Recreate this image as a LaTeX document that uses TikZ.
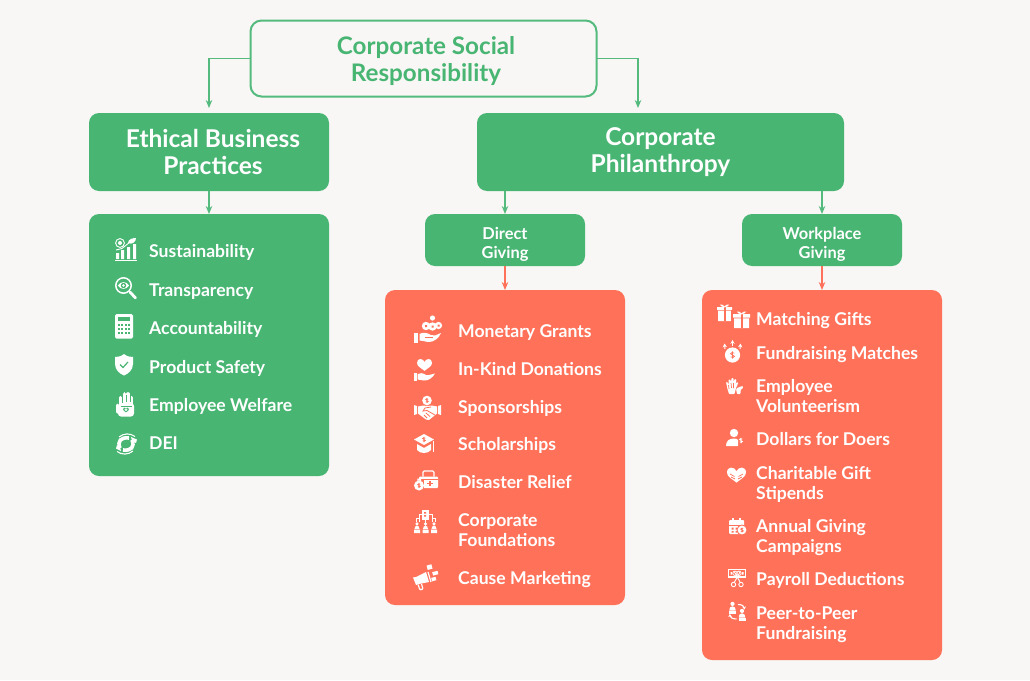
\documentclass[tikz,border=0pt]{standalone}
\usepackage{fontspec}
\setmainfont{Lato}
\usetikzlibrary{arrows.meta}
\definecolor{bgc}{HTML}{F8F7F5}
\definecolor{grn}{HTML}{48B573}
\definecolor{grl}{HTML}{55BA7D}
\definecolor{cor}{HTML}{FF7159}
\colorlet{cutc}{grn}
\tikzset{
  x=1pt,y=-1pt,
  block/.style={rectangle,rounded corners=10pt,inner sep=0pt,outer sep=0pt,fill=#1,text=white,align=center},
  listbox/.style={rectangle,rounded corners=10pt,inner sep=0pt,outer sep=0pt,fill=#1},
  headtxt/.style={font=\fontsize{24.5}{27}\selectfont\bfseries,text=white,align=center,inner sep=0pt,yshift=-4pt},
  subtxt/.style={font=\fontsize{16.4}{19}\selectfont\bfseries,text=white,align=center,inner sep=0pt,yshift=-3pt},
  item/.style={anchor=west,inner sep=0pt,text=white,align=left,yshift=-3.5pt,font=\fontsize{17.6}{19.7}\selectfont\bfseries},
  conn/.style={draw=#1,line width=1.3pt,-{Stealth[length=8pt,width=6.5pt]}},
  wf/.style={fill=white,draw=none},
  ws/.style={draw=white,line width=1.1pt,fill=none},
  cf/.style={fill=cutc,draw=none},
  cs/.style={draw=cutc,line width=.8pt,fill=none},
}
\newcommand\hrt[4]{\fill[#4,shift={(#1,#2)},scale=#3] (0,-.35) .. controls (-.2,-.85) and (-1,-.9) .. (-1,-.2) .. controls (-1,.25) and (-.4,.5) .. (0,.85) .. controls (.4,.5) and (1,.25) .. (1,-.2) .. controls (1,-.9) and (.2,-.85) .. (0,-.35) -- cycle;}
\newcommand\dol[4]{\draw[draw=#4,line width=.7pt,shift={(#1,#2)},scale=#3] (.55,-.55) .. controls (.2,-.85) and (-.6,-.85) .. (-.6,-.4) .. controls (-.6,.05) and (.6,-.05) .. (.6,.4) .. controls (.6,.85) and (-.2,.85) .. (-.55,.55) (0,-1.1) -- (0,1.1);}
\newcommand\prs[4]{\fill[#4,shift={(#1,#2)},scale=#3] (0,-1) circle [radius=1] (-1.5,2.2) .. controls (-1.5,.6) and (-.8,.2) .. (0,.2) .. controls (.8,.2) and (1.5,.6) .. (1.5,2.2) -- cycle;}
\newcommand\twol[2]{\strut #1\\\strut #2}
\tikzset{
  pics/isust/.style={code={
    \draw[ws,line width=1pt] (0,22) -- (22,22);
    \fill[wf] (1,15) rectangle +(3,6) (6,12) rectangle +(3,9) (12,9) rectangle +(3,12) (18,6) rectangle +(3,15);
    \draw[ws,line width=.9pt] (5,5) circle [radius=4.4];
    \fill[wf] (5,5) circle [radius=2];
    \draw[ws,line width=.9pt] (1,12) -- (7,10.5) -- (15,4);
    \fill[wf] (13,5) .. controls (13,1) and (18,0) .. (21,0) .. controls (21,4) and (17,7) .. (13,5) -- cycle;
  }},
  pics/itrans/.style={code={
    \draw[ws,line width=1.5pt] (8.5,8.5) circle [radius=7.7];
    \draw[white,line width=2.8pt,line cap=round] (15,15) -- (20.5,21);
    \fill[wf] (3,8.5) .. controls (5.5,4) and (11.5,4) .. (14,8.5) .. controls (11.5,13) and (5.5,13) .. (3,8.5) -- cycle;
    \fill[cf] (8.5,8.5) circle [radius=2.7];
    \fill[wf] (8.5,8.5) circle [radius=1.3];
  }},
  pics/icalc/.style={code={
    \fill[wf,rounded corners=1.5pt] (0,0) rectangle (18,24.5);
    \fill[cf] (3,3) rectangle (15,6.5);
    \foreach \i in {0,1,2,3} \foreach \j in {0,1,2}
      \fill[cf] ({3+3.3*\i},{9.5+4*\j}) rectangle +(2,2.2);
  }},
  pics/ishield/.style={code={
    \fill[wf] (9,0) .. controls (12,2.5) and (15,3) .. (18,3) -- (18,10) .. controls (18,16) and (13,20) .. (9,21.5) .. controls (5,20) and (0,16) .. (0,10) -- (0,3) .. controls (3,3) and (6,2.5) .. (9,0) -- cycle;
    \draw[cutc,line width=1.2pt] (5,10.5) -- (8,13.5) -- (13,8);
  }},
  pics/ihand/.style={code={
    \fill[wf,rounded corners=3pt] (2,11) rectangle (18,24.5);
    \draw[white,line width=3.2pt,line cap=round] (4.5,13) -- (4.5,5.5) (8.3,13) -- (8.3,1.8) (12,13) -- (12,1.8) (15.8,13) -- (15.8,5.5);
    \draw[white,line width=3pt,line cap=round] (1.5,20) -- (1.5,13);
    \draw[cutc,line width=.5pt] (6.4,4) -- (6.4,10) (10.15,3) -- (10.15,10) (13.9,4) -- (13.9,10);
    \draw[cutc,line width=.8pt] (4.5,14) -- (15.5,14);
    \hrt{10}{17.8}{3}{cutc}
    \hrt{10}{17.9}{1.4}{white}
  }},
  pics/idei/.style={code={
    \draw[white,line width=3.6pt] (4,15) .. controls (1,8) and (5,4) .. (13,5);
    \draw[white,line width=3.6pt] (16,7) .. controls (19,14) and (15,18) .. (7,17);
    \draw[white,line width=1.1pt] (3,4) .. controls (8,0) and (14,0) .. (19,3.5);
    \draw[white,line width=1.1pt] (17,18) .. controls (12,22) and (6,22) .. (1,18.5);
    \fill[wf] (15,4) -- (21,6.5) -- (20,10) -- (16,8) -- cycle (5,18) -- (0,15.5) -- (1,12) -- (4,14) -- cycle;
  }},
  pics/imoney/.style={code={
    \fill[wf] (18.5,1) circle [radius=2.6];
    \fill[wf] (12,9) circle [radius=4.2] (18.5,9.5) circle [radius=4.2] (24.5,8.5) circle [radius=3.6];
    \fill[cf] (11,8) rectangle +(2,2) (17.5,8.5) rectangle +(2,2) (23.5,7.5) rectangle +(2,2);
    \fill[wf] (0,16) rectangle (4,26);
    \fill[wf] (5.5,17) .. controls (9,15) and (13,15.5) .. (17,18) -- (21,18.5) -- (27,16) .. controls (25,21) and (20,25) .. (15,25) .. controls (11,25) and (8,23) .. (5.5,23.5) -- cycle;
    \draw[cutc,line width=.6pt] (11,20.5) -- (19,20.5);
  }},
  pics/ikind/.style={code={
    \hrt{10.5}{6.5}{7.5}{white}
    \fill[wf] (0,15) rectangle (2.5,23);
    \fill[wf] (3.5,16) .. controls (6,14.5) and (9,15) .. (12,17) -- (15,17) -- (21,15.5) .. controls (19,19) and (15,23) .. (10,22.5) -- (3.5,21.5) -- cycle;
  }},
  pics/ispons/.style={code={
    \fill[wf] (13,4.5) circle [radius=4.8];
    \dol{13}{4.5}{2.2}{cutc}
    \fill[wf] (0,9) -- (3,10) -- (3,18) -- (0,19) -- cycle (27,9) -- (24,10) -- (24,18) -- (27,19) -- cycle;
    \fill[wf] (4,10.5) -- (9,9.5) -- (13,10) -- (18,9.5) -- (23,10.5) -- (23,17.5) -- (15,24) -- (12,23.5) -- (4,17.5) -- cycle;
    \draw[cutc,line width=.8pt] (17,11) -- (11,12) -- (9,15) -- (13,14.5) -- (21,19) (12,17) -- (16,20.5) (10,19) -- (13,22);
  }},
  pics/ischol/.style={code={
    \fill[wf] (10,0) -- (20,5.5) -- (10,11) -- (0,5.5) -- cycle;
    \dol{10}{5.5}{2.3}{cutc}
    \fill[wf] (3,10) -- (10,14) -- (17,10) -- (17,16) .. controls (14,20) and (6,20) .. (3,16) -- cycle;
    \draw[white,line width=.8pt] (19.5,7) -- (19.5,17.5);
  }},
  pics/iaid/.style={code={
    \fill[wf,rounded corners=1pt] (5,6.5) rectangle (24,18);
    \draw[white,line width=1.2pt,rounded corners=1.2pt] (9,6.5) -- (9,1) -- (20,1) -- (20,6.5);
    \draw[cutc,line width=.7pt] (5,9.5) -- (24,9.5);
    \draw[cutc,line width=1.4pt] (16,10.5) -- (16,16) (13.3,13.2) -- (18.7,13.2);
    \fill[cf] (3,10) rectangle (10.2,21);
    \fill[wf] (5,15.5) circle [radius=5] (3.3,8.5) rectangle (7,11);
    \dol{5}{15.5}{2.2}{cutc}
  }},
  pics/ifound/.style={code={
    \fill[wf] (7.5,0) rectangle (15,10);
    \fill[cf] (10,2) rectangle +(2.2,1.6) (10,5) rectangle +(2.2,1.6);
    \draw[white,line width=.9pt] (5,12) -- (5,4) -- (7.5,4) (2,12) -- (2,8) -- (5,8) (18,12) -- (18,4) -- (15,4) (21,12) -- (21,8) -- (18,8) (11.2,10) -- (11.2,13);
    \prs{3}{15.5}{1.7}{white}
    \prs{11.5}{15.5}{1.7}{white}
    \prs{20}{15.5}{1.7}{white}
    \fill[wf] (0,19.5) rectangle (6,23) (8.5,19.5) rectangle (14.5,23) (17,19.5) rectangle (23,23);
  }},
  pics/imega/.style={code={
    \fill[wf] (0,12.5) -- (3,12) -- (13,7) -- (16,17) -- (6,19) -- (3,20) -- cycle;
    \draw[white,line width=1.2pt,rounded corners=1pt] (5,19.5) -- (7,25) -- (10,24) -- (8.5,19);
    \draw[white,line width=1.2pt] (15,7) -- (18,17);
    \fill[wf,rotate around={15:(16,2)}] (14,0) rectangle (19,4.5);
    \fill[wf,rotate around={15:(22,8)}] (19.5,6.5) rectangle (25,10);
    \fill[wf,rotate around={15:(20,14)}] (18.5,12.5) rectangle (23,16);
  }},
  pics/igift/.style={code={
    \fill[wf] (0,3) rectangle (15,6) (1,6.8) rectangle (14,17);
    \fill[cf] (6.5,3) rectangle (8.5,17);
    \draw[white,line width=.8pt] (7.5,3) .. controls (3,-1.5) and (2,2) .. (7.5,3) .. controls (13,2) and (12,-1.5) .. (7.5,3);
    \fill[cf] (14,6) rectangle (18,24);
    \fill[wf] (16,10) rectangle (33,13.5) (17,14.3) rectangle (32,24);
    \fill[cf] (23.5,10) rectangle (25.5,24);
    \draw[white,line width=.8pt] (24.5,10) .. controls (20,5.5) and (19,9) .. (24.5,10) .. controls (30,9) and (29,5.5) .. (24.5,10);
  }},
  pics/ifund/.style={code={
    \fill[wf] (10.5,15) circle [radius=7.6];
    \dol{10.5}{15}{3.3}{cutc}
    \draw[white,line width=1pt,-{Stealth[length=3.8pt,width=4.2pt]}] (10.5,6) -- (10.5,0);
    \draw[white,line width=1pt,-{Stealth[length=3.8pt,width=4.2pt]}] (3,9) -- (2.5,3.5);
    \draw[white,line width=1pt,-{Stealth[length=3.8pt,width=4.2pt]}] (18,9) -- (18.5,3.5);
  }},
  pics/ivol/.style={code={
    \fill[wf,rounded corners=.8pt] (1,5) -- (2.5,5) -- (3.5,8) -- (3.5,2.5) -- (5.5,2.5) -- (6,6) -- (6.5,1) -- (8.5,1) -- (8.5,6) -- (9.5,2) -- (11.5,2.5) -- (10.5,7) -- (12,5) -- (13.5,5.5) -- (11,11) -- (9.5,17) -- (4,17) -- (2.5,12) -- cycle;
    \draw[cutc,line width=.7pt] (3.5,8) -- (4,12) (6,6) -- (6.5,11) (8.5,6) -- (8.5,11);
    \fill[wf,rounded corners=.8pt] (12,17) -- (11,12) -- (14,10) -- (18,9) -- (18,11) -- (15.5,13) -- (15.5,17) -- cycle;
  }},
  pics/idoers/.style={code={
    \fill[wf] (8,4) circle [radius=4.2];
    \fill[wf] (0,17) .. controls (0,12) and (3,9.5) .. (8,9.5) .. controls (10,9.5) and (11.5,10) .. (12,11) -- (12,17) -- cycle;
    \dol{15}{11.5}{2.5}{white}
  }},
  pics/icharity/.style={code={
    \hrt{9.5}{7.5}{9.5}{white}
    \draw[cutc,line width=.7pt] (3,7) -- (7.5,9.5) (4,10) -- (8,12) (16,7) -- (11.5,9.5) (15,10) -- (11,12);
  }},
  pics/ical/.style={code={
    \fill[wf,rounded corners=1pt] (0,2) rectangle (15,16);
    \fill[cf] (0,6.5) rectangle (15,7.5);
    \fill[wf] (3,0) rectangle +(1.8,4) (10,0) rectangle +(1.8,4);
    \fill[cf] (2.5,9.5) rectangle +(2,2) (6.5,9.5) rectangle +(2,2) (2.5,13) rectangle +(2,1.6) (6.5,13) rectangle +(2,1.6);
    \fill[cf] (13,12) circle [radius=5.4];
    \fill[wf] (13,12) circle [radius=4.4];
    \dol{13}{12}{2.2}{cutc}
  }},
  pics/ipay/.style={code={
    \draw[ws,line width=1.3pt] (.7,.7) rectangle (17.5,8);
    \draw[white,line width=.8pt] (7,4.3) circle [radius=2.2] (11,4.3) circle [radius=2.2];
    \fill[wf] (2.5,3) rectangle +(1.6,2.5) (14,3) rectangle +(1.6,2.5);
    \draw[white,line width=.9pt] (12,3) -- (6.5,13) (6.5,3) -- (12,13);
    \draw[white,line width=.9pt] (5.5,15.5) circle [radius=2.2] (13,15.5) circle [radius=2.2];
  }},
  pics/ipeer/.style={code={
    \prs{4.5}{3}{2.1}{white}
    \fill[wf] (1,8.2) rectangle (8,11);
    \prs{14}{10}{2.1}{white}
    \fill[wf] (10.5,14.6) rectangle (17.5,17.5);
    \draw[white,line width=1.1pt,-{Stealth[length=3pt,width=3.6pt]}] (10,1.5) .. controls (14,1.5) and (16,3) .. (16.5,6.5);
    \draw[white,line width=1.1pt,-{Stealth[length=3pt,width=3.6pt]}] (8.5,16) .. controls (4,16) and (2,14) .. (1.8,11);
  }},
}
\begin{document}
\begin{tikzpicture}
\useasboundingbox (0,0) rectangle (1030,680);
\fill[bgc] (0,0) rectangle (1030,680);

% main boxes
\node[rectangle,rounded corners=11pt,draw=grl,line width=2pt,fill=bgc,minimum width=346pt,minimum height=76pt,inner sep=0pt,outer sep=0pt] (csr) at (423.5,58.5) {};
\node[font=\fontsize{24.2}{27}\selectfont\bfseries,text=grn,align=center,inner sep=0pt,yshift=-4pt] (csrt) at (426,58.5) {\strut Corporate Social\\\strut Responsibility};

\node[block=grn,minimum width=240pt,minimum height=78pt] (ethical) at (209,152) {};
\node[headtxt] (ethicalt) at (213,152) {\strut Ethical Business\\\strut Practices};
\node[block=grn,minimum width=367pt,minimum height=78pt] (phil) at (660.5,152) {};
\node[headtxt] (philt) at (660.5,150) {\strut Corporate\\\strut Philanthropy};

\node[listbox=grn,minimum width=240pt,minimum height=262pt] (ethlist) at (209,345) {};
\node[block=grn,minimum width=160pt,minimum height=52pt] (direct) at (505,240) {};
\node[subtxt] (directt) at (505,242) {\strut Direct\\\strut Giving};
\node[block=grn,minimum width=160pt,minimum height=52pt] (work) at (822,240) {};
\node[subtxt] (workt) at (822,242) {\strut Workplace\\\strut Giving};
\node[listbox=cor,minimum width=240pt,minimum height=315pt] (dirlist) at (505,447.5) {};
\node[listbox=cor,minimum width=240pt,minimum height=370pt] (worklist) at (822,475) {};

% connectors
\coordinate (ethin) at (209,108);
\coordinate (philin) at (638,108);
\draw[conn=grl] (csr.west) -| (ethin);
\draw[conn=grl] (csr.east) -| (philin);
\draw[conn=grl] (ethical.south) -- (ethlist.north);
\draw[conn=grl] (direct.north |- phil.south) -- (direct.north);
\draw[conn=grl] (work.north |- phil.south) -- (work.north);
\draw[conn=cor] (direct.south) -- (dirlist.north);
\draw[conn=cor] (work.south) -- (worklist.north);

% ethical items
\node[item] (e1) at (149,250) {\strut Sustainability};
\node[item] (e2) at (149,289) {\strut Transparency};
\node[item] (e3) at (149,327) {\strut Accountability};
\node[item] (e4) at (149,366) {\strut Product Safety};
\node[item] (e5) at (149,404) {\strut Employee Welfare};
\node[item] (e6) at (149,442) {\strut DEI};
\pic at (115,238) {isust};
\pic at (115,277) {itrans};
\pic at (115,314) {icalc};
\pic at (115,354) {ishield};
\pic at (116,392) {ihand};
\pic at (116,433) {idei};

% direct items
\node[item] (d1) at (458,330) {\strut Monetary Grants};
\node[item] (d2) at (458,368) {\strut In-Kind Donations};
\node[item] (d3) at (458,406) {\strut Sponsorships};
\node[item] (d4) at (458,443) {\strut Scholarships};
\node[item] (d5) at (458,481) {\strut Disaster Relief};
\node[item] (d6) at (458,529) {\twol{Corporate}{Foundations}};
\node[item] (d7) at (458,577) {\strut Cause Marketing};
\begin{scope}
\colorlet{cutc}{cor}
\pic at (414,317) {imoney};
\pic at (414,358) {ikind};
\pic at (414,396) {ispons};
\pic at (414,434) {ischol};
\pic at (414,470) {iaid};
\pic at (414,510) {ifound};
\pic at (413,565) {imega};
\end{scope}

% workplace items
\node[item] (w1) at (756,318) {\strut Matching Gifts};
\node[item] (w2) at (756,352) {\strut Fundraising Matches};
\node[item] (w3) at (756,395) {\twol{Employee}{Volunteerism}};
\node[item] (w4) at (756,438) {\strut Dollars for Doers};
\node[item] (w5) at (756,482) {\twol{Charitable Gift}{Stipends}};
\node[item] (w6) at (756,535) {\twol{Annual Giving}{Campaigns}};
\node[item] (w7) at (756,578) {\strut Payroll Deductions};
\node[item] (w8) at (756,622) {\twol{Peer-to-Peer}{Fundraising}};
\begin{scope}
\colorlet{cutc}{cor}
\pic at (717,304) {igift};
\pic at (722,340) {ifund};
\pic at (725,377) {ivol};
\pic at (726,429) {idoers};
\pic at (727,467) {icharity};
\pic at (729,518) {ical};
\pic at (728,569) {ipay};
\pic at (728,603) {ipeer};
\end{scope}
\end{tikzpicture}
\end{document}
